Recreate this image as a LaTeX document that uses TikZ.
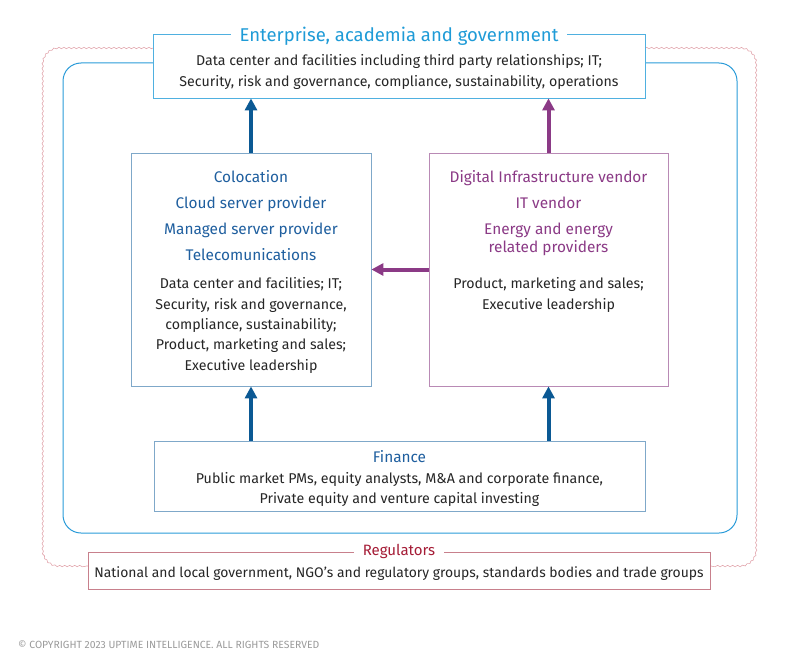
\documentclass[tikz,border=0pt]{standalone}
\usepackage{fontspec}
\setmainfont{Fira Sans}
\usepackage{tikz}
\usetikzlibrary{arrows.meta,decorations.pathmorphing}

\definecolor{entblue}{HTML}{1E9BD7}
\definecolor{entline}{HTML}{4FB0E0}
\definecolor{ringblue}{HTML}{2A9BD8}
\definecolor{coloblue}{HTML}{1F5F9F}
\definecolor{cololine}{HTML}{7FA8C9}
\definecolor{arrblue}{HTML}{0B5994}
\definecolor{vendpurple}{HTML}{8B3A86}
\definecolor{vendline}{HTML}{B98AB5}
\definecolor{regred}{HTML}{A51C36}
\definecolor{regline}{HTML}{C8808C}
\definecolor{wavepink}{HTML}{E2A7AE}
\definecolor{copygray}{HTML}{9A9A9A}

\begin{document}
\begin{tikzpicture}[x=1pt,y=-1pt,
  box/.style={draw, fill=white, line width=0.8pt, inner sep=0pt},
  title/.style={fill=white, inner xsep=9pt, inner ysep=1pt, anchor=base, font=\fontsize{18.5}{22}\selectfont},
  head/.style={align=center, anchor=base, inner sep=0pt, font=\fontsize{15.4}{25.8}\selectfont},
  body/.style={align=center, anchor=base, inner sep=0pt, text=black!85, font=\fontsize{14.2}{20.3}\selectfont},
  thickarr/.style={line width=4pt, -{Triangle[width=12pt,length=12pt]}},
  wave/.style={draw=wavepink, line width=0.6pt,
    decorate, decoration={snake, segment length=5pt, amplitude=0.7pt}}
]
\useasboundingbox (0,0) rectangle (800,669);

% wavy ring round everything
\draw[wave] (153,48) -- (60,48) arc (270:180:16) -- (44,550) arc (180:90:16) -- (88,566);
\draw[wave] (645,48) -- (739,48) arc (-90:0:16) -- (755,550) arc (0:90:16) -- (710,566);

% blue ring
\draw[ringblue, line width=1pt, rounded corners=18pt] (63,63) rectangle (737,533);

% boxes
\node[box, draw=entline, minimum width=492pt, minimum height=64pt] (ent) at (399,66) {};
\node[box, draw=cololine, minimum width=240pt, minimum height=233pt] (colo) at (251,269.5) {};
\node[box, draw=vendline, minimum width=239pt, minimum height=233pt] (vend) at (548.5,269.5) {};
\node[box, draw=cololine, minimum width=491pt, minimum height=70pt] (fin) at (399.5,476) {};
\node[box, draw=regline, minimum width=622pt, minimum height=37pt] (reg) at (399,570.5) {};

% titles on the borders
\node[title, text=entblue] (enttitle) at (399,41.7) {Enterprise, academia and government};
\node[title, text=regred, font=\fontsize{15}{18}\selectfont] (regtitle) at (399,555.7) {Regulators};

% texts (base = last line)
\node[body] (enttext) at (399,86) {Data center and facilities including third party relationships; IT;\\Security, risk and governance, compliance, sustainability, operations};
\node[head, text=coloblue] (colohead) at (251,260) {Colocation\\Cloud server provider\\Managed server provider\\Telecomunications};
\node[body] (colotext) at (251,370) {Data center and facilities; IT;\\Security, risk and governance,\\compliance, sustainability;\\Product, marketing and sales;\\Executive leadership};
\node[head, text=vendpurple] (vendhead) at (548.5,252.3) {Digital Infrastructure vendor\\IT vendor\\Energy and energy\\[-7.8pt]related providers};
\node[body] (vendtext) at (548.5,309) {Product, marketing and sales;\\Executive leadership};
\node[head, text=coloblue] (finhead) at (399.5,462.3) {Finance};
\node[body] (fintext) at (399.5,503.3) {Public market PMs, equity analysts, M\&A and corporate finance,\\Private equity and venture capital investing};
\node[body, font=\fontsize{13.9}{20.3}\selectfont] (regtext) at (399,577.3) {National and local government, NGO's and regulatory groups, standards bodies and trade groups};

% arrows
\draw[thickarr, arrblue] (colo.north) -- (colo.north |- ent.south);
\draw[thickarr, vendpurple] (vend.north) -- (vend.north |- ent.south);
\draw[thickarr, vendpurple] (vend.west) -- (colo.east);
\draw[thickarr, arrblue] (colo.south |- fin.north) -- (colo.south);
\draw[thickarr, arrblue] (vend.south |- fin.north) -- (vend.south);

\node[anchor=base west, inner sep=0pt, text=copygray, font=\fontsize{10.4}{12}\selectfont] (copy) at (18,648.3) {© COPYRIGHT 2023 UPTIME INTELLIGENCE. ALL RIGHTS RESERVED};
\end{tikzpicture}
\end{document}
